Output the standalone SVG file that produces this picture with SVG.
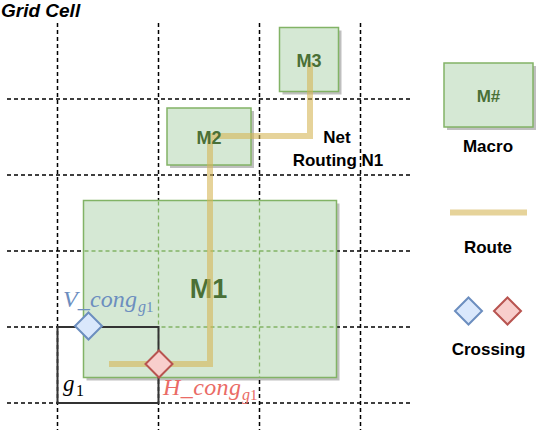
<svg xmlns="http://www.w3.org/2000/svg" width="538" height="430" viewBox="0 0 538 430">
<style>
.grid{stroke:#000;stroke-width:1.5;stroke-dasharray:4 3;fill:none}
.gin{stroke:#82b366;stroke-width:1.3;stroke-dasharray:4 3;fill:none}
.macro{fill:#d5e8d4;stroke:#82b366;stroke-width:1.5}
.shadow{fill:#000;fill-opacity:0.25}
.mlab{font-family:"Liberation Sans",Arial,sans-serif;font-weight:bold;fill:#4a7036;text-anchor:middle}
.lab{font-family:"Liberation Sans",Arial,sans-serif;font-weight:bold;font-size:17px;fill:#000;text-anchor:middle}
.route{fill:none;stroke:#d6b656;stroke-opacity:0.6;stroke-width:6}
.math{font-family:"Liberation Serif","Times New Roman",serif;font-style:italic}
.vd{fill:#dae8fc;stroke:#6c8ebf;stroke-width:2}
.hd{fill:#f8cecc;stroke:#b85450;stroke-width:2}
</style>
<rect width="538" height="430" fill="#fff"/>
<text x="1" y="17" font-family="Liberation Sans,Arial,sans-serif" font-weight="bold" font-style="italic" font-size="19">Grid Cell</text>
<g id="grid">
<path class="grid" d="M57.5 23V430M158.5 23V430M259.5 23V430M360.5 23V430M7 99H413M7 175H413M7 251H413M7 327H413M7 403H413"/>
</g>
<g id="M1">
<rect class="shadow" x="86.5" y="203.5" width="253" height="177"/>
<rect class="macro" x="83.5" y="200.5" width="253" height="177"/>
<path class="gin" d="M158.5 201.5V377M259.5 201.5V377M84.5 251H335.5M84.5 327H335.5"/>
<text class="mlab" x="208.5" y="298" font-size="27">M1</text>
</g>
<g id="M2">
<rect class="shadow" x="170" y="111" width="84" height="57"/>
<rect class="macro" x="167" y="108" width="84" height="57"/>
</g>
<g id="M3">
<rect class="shadow" x="282.5" y="30.5" width="59" height="64"/>
<rect class="macro" x="279.5" y="27.5" width="59" height="64"/>
</g>
<g id="g1">
<rect x="57.5" y="327" width="101" height="76" fill="none" stroke="#333" stroke-width="2"/>
<text class="math" x="63" y="391" font-size="23">g</text>
<text x="76" y="396" font-family="Liberation Serif,serif" font-size="16">1</text>
</g>
<g id="connectors">
<polyline class="route" points="310,62 310,136 210,136 210,364 109,364"/>
</g>
<text class="mlab" x="209" y="143.5" font-size="18">M2</text>
<text class="mlab" x="309" y="66.5" font-size="18">M3</text>
<g id="label-net">
<text class="lab" x="337" y="143">Net</text>
<text class="lab" x="338" y="166">Routing N1</text>
</g>
<g id="crossing-V">
<path class="vd" d="M88.5 312.5L102 326L88.5 339.5L75 326Z"/>
<text class="math" x="63" y="307" font-size="24" fill="#6c8ebf" textLength="74" lengthAdjust="spacing">V_cong</text>
<text class="math" x="138" y="312" font-size="16" fill="#6c8ebf">g</text>
<text x="146" y="312" font-family="Liberation Serif,serif" font-size="15" fill="#6c8ebf">1</text>
</g>
<g id="crossing-H">
<path class="hd" d="M159 350.5L172.5 364L159 377.5L145.5 364Z"/>
<text class="math" x="163" y="395" font-size="24" fill="#ea6b66" textLength="78" lengthAdjust="spacing">H_cong</text>
<text class="math" x="242" y="400" font-size="16" fill="#ea6b66">g</text>
<text x="250" y="400" font-family="Liberation Serif,serif" font-size="15" fill="#ea6b66">1</text>
</g>
<g id="legend-macro">
<rect class="shadow" x="447" y="66" width="89" height="64"/>
<rect class="macro" x="444" y="63" width="89" height="64"/>
<text class="mlab" x="488.5" y="101.5" font-size="17">M#</text>
<text class="lab" x="488" y="152">Macro</text>
</g>
<g id="legend-route">
<line class="route" x1="450" y1="212.5" x2="527" y2="212.5"/>
<text class="lab" x="488" y="253">Route</text>
</g>
<g id="legend-crossing">
<path class="vd" d="M468.5 297.5L482 311L468.5 324.5L455 311Z"/>
<path class="hd" d="M507.5 297.5L521 311L507.5 324.5L494 311Z"/>
<text class="lab" x="488.5" y="355">Crossing</text>
</g>
</svg>
